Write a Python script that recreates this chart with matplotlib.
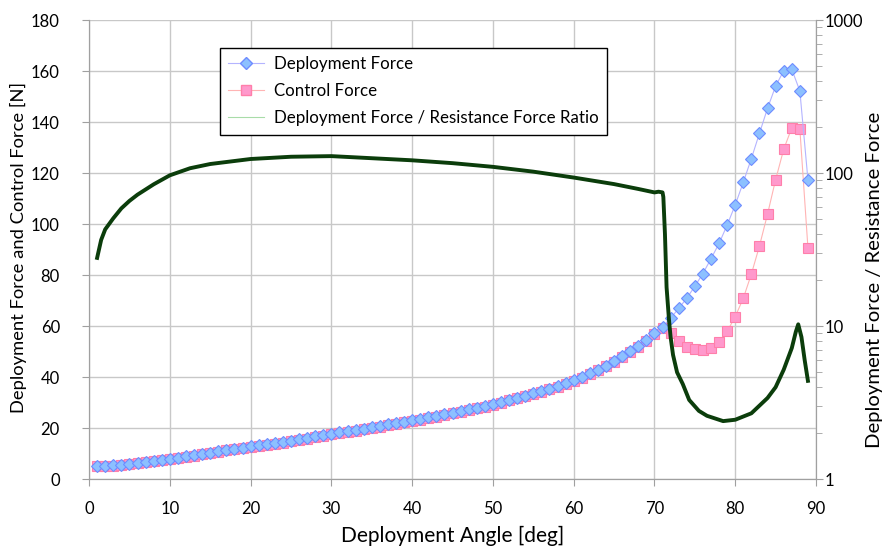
import numpy as np
import matplotlib
matplotlib.use('Agg')
import matplotlib.pyplot as plt
from matplotlib.lines import Line2D
from matplotlib.ticker import LogLocator, NullFormatter, FixedLocator, FixedFormatter

plt.rcParams['font.family'] = ['Lato', 'DejaVu Sans']

angle = list(range(1, 90))

deploy_force = [5.4, 5.4, 5.5, 5.7, 6.0, 6.4, 6.8, 7.2, 7.6, 8.1,
                8.5, 9.0, 9.5, 10.0, 10.5, 11.0, 11.5, 12.0, 12.4, 12.9,
                13.3, 13.8, 14.2, 14.7, 15.2, 15.7, 16.2, 16.8, 17.3, 17.9,
                18.4, 18.9, 19.4, 19.9, 20.4, 20.9, 21.5, 22.0, 22.6, 23.1,
                23.7, 24.3, 24.9, 25.5, 26.1, 26.7, 27.4, 28.1, 28.8, 29.6,
                30.4, 31.2, 32.0, 32.8, 33.7, 34.6, 35.6, 36.6, 37.7, 38.9,
                40.1, 41.5, 43.0, 44.6, 46.3, 48.2, 50.4, 52.2, 54.5, 57.2,
                59.9, 63.2, 67.0, 71.0, 75.7, 80.7, 86.5, 92.5, 99.7, 107.6,
                116.5, 125.8, 135.7, 145.5, 154.2, 160.2, 160.8, 152.3, 117.5]

control_force = [5.2, 5.2, 5.3, 5.5, 5.8, 6.2, 6.6, 7.0, 7.4, 7.9,
                 8.3, 8.8, 9.3, 9.8, 10.3, 10.8, 11.3, 11.7, 12.1, 12.6,
                 13.0, 13.5, 13.9, 14.4, 14.9, 15.4, 15.9, 16.5, 17.0, 17.6,
                 18.1, 18.6, 19.1, 19.6, 20.1, 20.6, 21.2, 21.7, 22.3, 22.8,
                 23.4, 24.0, 24.6, 25.2, 25.8, 26.4, 27.1, 27.8, 28.5, 29.3,
                 30.1, 30.9, 31.7, 32.5, 33.4, 34.3, 35.3, 36.3, 37.4, 38.6,
                 39.8, 41.2, 42.7, 44.3, 46.0, 47.9, 50.0, 51.8, 54.1, 56.8,
                 59.5, 57.3, 54.2, 52.0, 51.0, 50.6, 51.3, 53.9, 58.0, 63.8,
                 71.0, 80.5, 91.5, 104.0, 117.5, 129.4, 137.8, 137.4, 90.8]

ratio_angle = [1.0, 1.5, 2.0, 3.0, 4.0, 5.0, 6.0, 8.0, 10.0, 12.5,
               15.0, 20.0, 25.0, 30.0, 35.0, 40.0, 45.0, 50.0, 55.0, 60.0,
               65.0, 68.0, 70.0, 70.5, 71.0, 71.1, 71.3, 71.5, 71.8, 72.0,
               72.3, 72.8, 73.5, 74.3, 75.5, 76.5, 78.5, 80.0, 82.0, 84.0,
               85.0, 86.0, 87.0, 87.5, 87.8, 88.2, 88.6, 89.0]
ratio = [28.0, 36.7, 43.0, 50.8, 59.0, 66.0, 72.5, 84.7, 97.0, 107.9,
         115.0, 124.0, 128.3, 129.5, 125.5, 121.6, 116.5, 110.2, 102.5, 93.8,
         85.0, 79.0, 75.0, 75.8, 75.0, 70.0, 40.0, 18.0, 11.0, 8.5,
         6.5, 5.0, 4.2, 3.3, 2.8, 2.6, 2.4, 2.45, 2.7, 3.4,
         4.0, 5.2, 7.2, 9.2, 10.3, 8.5, 6.0, 4.4]

fig = plt.figure(figsize=(8.86, 5.49), dpi=100)
ax = fig.add_axes([0.1005, 0.127, 0.8205, 0.836])

grid_c = '#c8c8c8'
ax.plot(angle, control_force, color='#ffb4b4', lw=0.8, marker='s', ms=7.5,
        mfc='#ff99cc', mec='#ff7faa', mew=0.8, zorder=3)
ax.plot(angle, deploy_force, color='#b4b4ff', lw=0.8, marker='D', ms=6.4,
        mfc='#8cc0ff', mec='#6e8cff', mew=0.8, zorder=4)

ax.set_xlim(0, 90)
ax.set_ylim(0, 180)
ax.set_xticks(range(0, 91, 10))
ax.set_yticks(range(0, 181, 20))
ax.grid(True, color=grid_c, lw=1)
ax.set_axisbelow(True)
for s in ['left', 'bottom', 'right']:
    ax.spines[s].set_color('#a0a0a0')
ax.spines['top'].set_visible(False)
ax.tick_params(colors='#a0a0a0', labelcolor='black', labelsize=12, length=5)
ax.tick_params(axis='y', pad=16)
ax.tick_params(axis='x', pad=11)
ax.set_xlabel('Deployment Angle [deg]', fontsize=15, labelpad=6)
ax.set_ylabel('Deployment Force and Control Force [N]', fontsize=13.2)
ax.yaxis.set_label_coords(-0.085, 0.505)

ax2 = ax.twinx()
ax2.plot(ratio_angle, ratio, color='#0b3d0b', lw=2.8, zorder=5)
ax2.set_yscale('log')
ax2.set_ylim(1, 1000)
ax2.yaxis.set_major_locator(FixedLocator([1, 10, 100, 1000]))
ax2.yaxis.set_major_formatter(FixedFormatter(['1', '10', '100', '1000']))
ax2.yaxis.set_minor_locator(LogLocator(base=10, subs=np.arange(2, 10)))
ax2.yaxis.set_minor_formatter(NullFormatter())
for s in ['left', 'bottom', 'right']:
    ax2.spines[s].set_color('#a0a0a0')
ax2.spines['top'].set_visible(False)
ax2.tick_params(which='both', colors='#a0a0a0', labelcolor='black', labelsize=12, pad=1)
ax2.tick_params(which='major', length=5)
ax2.tick_params(which='minor', length=4)
ax2.set_ylabel('Deployment Force / Resistance Force', fontsize=14.6)
ax2.yaxis.set_label_coords(1.069, 0.435)

handles = [Line2D([], [], color='#b4b4ff', lw=0.8, marker='D', ms=6.4,
                  mfc='#8cc0ff', mec='#6e8cff'),
           Line2D([], [], color='#ffb4b4', lw=0.8, marker='s', ms=7.5,
                  mfc='#ff99cc', mec='#ff7faa'),
           Line2D([], [], color='#a8dca8', lw=0.8)]
leg = ax2.legend(handles, ['Deployment Force', 'Control Force',
                           'Deployment Force / Resistance Force Ratio'],
                 loc='upper left', bbox_to_anchor=(0.18, 0.94), borderaxespad=0,
                 fontsize=12.2, fancybox=False, framealpha=1, edgecolor='black',
                 handlelength=2.1, handletextpad=0.6, borderpad=0.5,
                 labelspacing=0.65)
leg.get_frame().set_linewidth(1.0)

fig.savefig('out.png', dpi=100)
